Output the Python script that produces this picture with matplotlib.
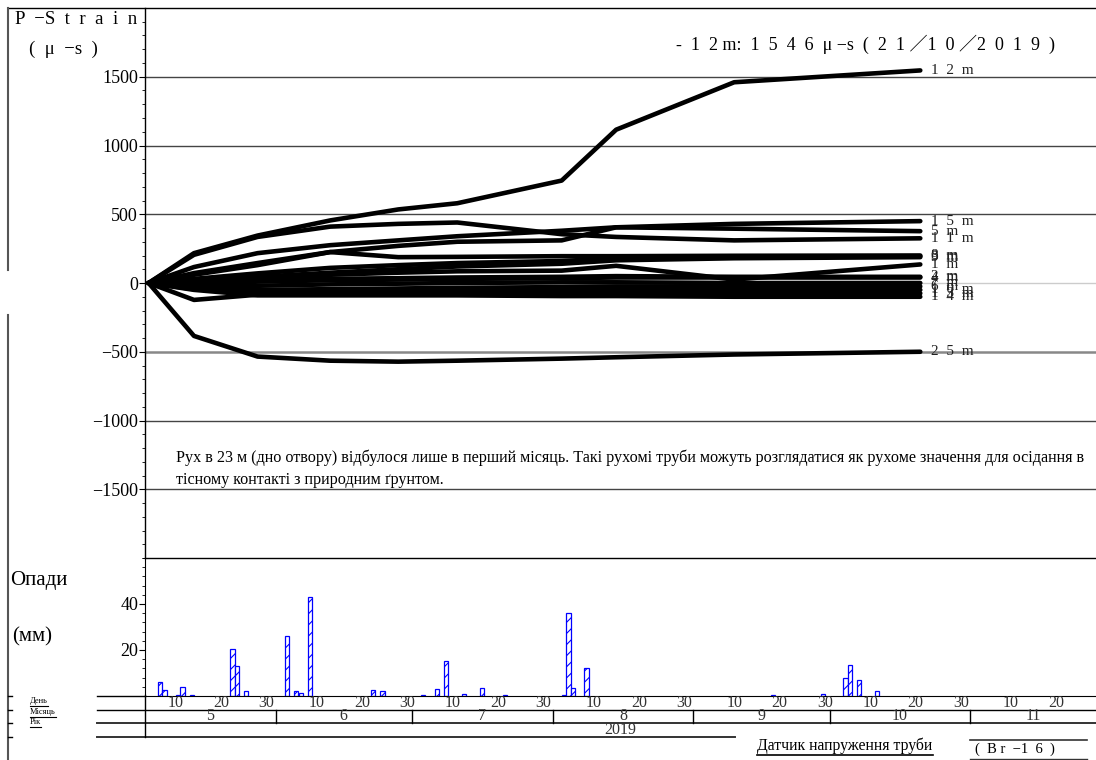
import datetime as dt
import matplotlib
matplotlib.use("Agg")
import matplotlib.pyplot as plt
import matplotlib.transforms as mtransforms
import pandas as pd
from matplotlib.ticker import MultipleLocator, FixedLocator

plt.rcParams['font.family'] = ['Liberation Serif', 'DejaVu Serif']
plt.rcParams['hatch.linewidth'] = 0.8

# pipe strain readings (micro-strain) per gauge depth
read_dates = pd.to_datetime(['2019-05-04', '2019-05-14', '2019-05-28', '2019-06-13', '2019-06-28',
                             '2019-07-11', '2019-08-03', '2019-08-15', '2019-09-10', '2019-10-21'])

strain_12m = [0, 217, 345, 455, 535, 580, 745, 1115, 1460, 1546]
strain_15m = [0, 116, 217, 275, 310, 340, 380, 405, 430, 450]
strain_11m = [0, 205, 335, 410, 430, 440, 355, 335, 310, 325]
strain_5m = [0, 72, 145, 225, 270, 300, 310, 405, 395, 377]
strain_8m = [0, 60, 130, 225, 188, 190, 195, 195, 198, 200]
strain_3m = [0, 30, 70, 110, 130, 145, 160, 180, 190, 195]
strain_9m = [0, 20, 45, 75, 100, 120, 140, 165, 180, 188]
strain_1m = [0, 15, 40, 60, 75, 85, 90, 125, 25, 135]
strain_2m = [0, 5, 20, 30, 35, 40, 45, 50, 45, 45]
strain_4m = [0, -10, 10, 20, 25, 30, 35, 40, 40, 40]
strain_7m = [0, -25, -20, -10, -5, 0, 5, 5, 0, 0]
strain_6m = [0, -35, -50, -45, -40, -35, -30, -25, -25, -25]
strain_10m = [0, -45, -75, -65, -60, -55, -50, -50, -50, -50]
strain_13m = [0, -123, -85, -80, -75, -75, -75, -75, -75, -75]
strain_14m = [0, -50, -90, -90, -90, -90, -95, -95, -100, -100]
strain_25m = [0, -385, -535, -565, -572, -565, -550, -540, -520, -500]

gauges = [('1  2  m', strain_12m), ('1  5  m', strain_15m), ('5  m', strain_5m), ('1  1  m', strain_11m),
          ('8  m', strain_8m), ('3  m', strain_3m), ('9  m', strain_9m), ('1  m', strain_1m),
          ('2  m', strain_2m), ('4  m', strain_4m), ('7  m', strain_7m), ('6  m', strain_6m),
          ('1  0  m', strain_10m), ('1  3  m', strain_13m), ('1  4  m', strain_14m), ('2  5  m', strain_25m)]

# daily rainfall (mm)
rain_dates = pd.to_datetime(['2019-05-06', '2019-05-07', '2019-05-10', '2019-05-11', '2019-05-13',
                             '2019-05-22', '2019-05-23', '2019-05-25', '2019-06-03', '2019-06-05',
                             '2019-06-06', '2019-06-08', '2019-06-22', '2019-06-24', '2019-07-03',
                             '2019-07-06', '2019-07-08', '2019-07-12', '2019-07-16', '2019-07-21',
                             '2019-08-03', '2019-08-04', '2019-08-05', '2019-08-08', '2019-09-18',
                             '2019-09-29', '2019-10-04', '2019-10-05', '2019-10-07', '2019-10-11'])
rain_mm = [6.1, 2.5, 0.3, 3.9, 0.3, 20.6, 12.9, 2.0, 25.9, 2.0,
           1.4, 43.0, 2.5, 2.0, 0.6, 2.9, 15.2, 0.7, 3.5, 0.5,
           0.3, 36.2, 3.6, 12.3, 0.3, 1.0, 8.0, 13.3, 6.8, 2.0]

strain_ticks = [-1500, -1000, -500, 0, 500, 1000, 1500]
rain_ticks = [20, 40]
month_labels = ['5', '6', '7', '8', '9', '10', '11']
day_labels = [10, 20, 30]
year_label = '2019'

x_start = dt.datetime(2019, 5, 3, 5)
x_end = dt.datetime(2019, 11, 28, 17)

W, H = 1096, 760
fig = plt.figure(figsize=(W / 100, H / 100), dpi=100)

ax2 = fig.add_axes([145 / W, (H - 696) / H, (W - 145) / W, 138 / H])
ax = fig.add_axes([145 / W, (H - 558) / H, (W - 145) / W, 550 / H])
ov = fig.add_axes([0, 0, 1, 1])
ov.set_xlim(0, W)
ov.set_ylim(H, 0)
ov.axis('off')

# --- strain panel
ax.set_xlim(x_start, x_end)
ax.set_ylim(-2000, 2000)
ax.patch.set_visible(False)
for s in ['top', 'right']:
    ax.spines[s].set_visible(False)
ax.spines['left'].set_linewidth(1.0)
ax.spines['bottom'].set_linewidth(1.0)
ax.set_xticks([])
ax.yaxis.set_major_locator(FixedLocator(strain_ticks))
ax.yaxis.set_minor_locator(MultipleLocator(100))
ax.tick_params(axis='y', which='major', direction='out', length=4, labelsize=13, pad=1)
ax.tick_params(axis='y', which='minor', direction='out', length=2.5)

for v in strain_ticks:
    if v == 0:
        ax.axhline(v, color='#cccccc', lw=1, zorder=1)
    elif v == -500:
        ax.axhline(v, color='#888888', lw=1.8, zorder=1)
    else:
        ax.axhline(v, color='#444444', lw=1, zorder=1)

for name, vals in gauges:
    ax.plot(read_dates, vals, color='black', lw=3.3, solid_capstyle='round', zorder=3)
    ax.annotate(name, (read_dates[-1], vals[-1]), xytext=(8, 0), textcoords='offset points',
                va='center', ha='left', fontsize=11, color='#222222')

# --- rainfall panel
ax2.set_xlim(x_start, x_end)
ax2.set_ylim(0, 60)
for s in ['top', 'right']:
    ax2.spines[s].set_visible(False)
ax2.set_xticks([])
ax2.yaxis.set_major_locator(FixedLocator(rain_ticks))
ax2.yaxis.set_minor_locator(MultipleLocator(4))
ax2.tick_params(axis='y', which='major', direction='out', length=4, labelsize=13, pad=1)
ax2.tick_params(axis='y', which='minor', direction='out', length=2.5)
ax2.bar(rain_dates + pd.Timedelta(hours=12), rain_mm, width=0.95, facecolor='white',
        edgecolor='blue', hatch='///', linewidth=0.9, zorder=2)

# --- date table under the rainfall panel
bt = mtransforms.blended_transform_factory(ax2.transData, ov.transData)
line_kw = dict(color='black', lw=1)
ov.plot([97, 145], [695.5, 695.5], **line_kw)
ov.plot([97, W], [710, 710], **line_kw)
ov.plot([97, W], [723, 723], color='#333333', lw=1.4)
ov.plot([97, 735], [737, 737], color='#333333', lw=1.4)
ov.plot([145, 145], [695, 737], **line_kw)

months = pd.date_range('2019-05-01', '2019-12-01', freq='MS')
for i, m in enumerate(months[:-1]):
    m0 = max(m, pd.Timestamp(x_start))
    m1 = min(months[i + 1], pd.Timestamp(x_end))
    mid = m0 + (m1 - m0) / 2
    ov.text(mid, 716.5, month_labels[i], transform=bt, ha='center', va='center', fontsize=11.5,
            color='#333333')
    if m > pd.Timestamp(x_start):
        ov.plot([m, m], [710, 723], transform=bt, **line_kw)
    for d in day_labels:
        day = m + pd.Timedelta(days=d - 1)
        if pd.Timestamp(x_start) < day < pd.Timestamp(x_end):
            ov.text(day, 703, str(d), transform=bt, ha='center', va='center', fontsize=11.5,
                    color='#333333')
y_mid = pd.Timestamp(x_start) + (pd.Timestamp(x_end) - pd.Timestamp(x_start)) / 2
ov.text(y_mid, 730, year_label, transform=bt, ha='center', va='center', fontsize=11.5, color='#333333')

# --- outer frame
ov.plot([8, W], [8, 8], **line_kw)
ov.plot([8, 8], [8, 270], color='#555555', lw=1.5)
ov.plot([8, 8], [315, H], color='#555555', lw=1.5)
for yy in [695.5, 710, 723, 737]:
    ov.plot([8, 12], [yy, yy], **line_kw)

# --- titles and notes
ov.text(15, 19, 'P  −S  t  r  a  i  n', fontsize=13.5, ha='left', va='center')
ov.text(29, 49, '(  μ  −s  )', fontsize=13.5, ha='left', va='center')
ov.text(676, 44, '-  1  2 m:  1  5  4  6  μ −s  (  2  1 ／1  0 ／2  0  1  9  )', fontsize=13,
        ha='left', va='center', family=['Liberation Serif', 'Noto Sans CJK JP'])
ov.text(176, 458, 'Рух в 23 м (дно отвору) відбулося лише в перший місяць. Такі рухомі труби можуть '
        'розглядатися як рухоме значення для осідання в', fontsize=11.6, ha='left', va='center')
ov.text(176, 480, 'тісному контакті з природним ґрунтом.', fontsize=11.6, ha='left', va='center')
ov.text(10, 580, 'Опади', fontsize=15, ha='left', va='center')
ov.text(12, 637, '(мм)', fontsize=15, ha='left', va='center')

underlined = [
    ov.text(30, 701, 'День', fontsize=6, ha='left', va='center'),
    ov.text(30, 712, 'Місяць', fontsize=6, ha='left', va='center'),
    ov.text(30, 722, 'Рік', fontsize=6, ha='left', va='center'),
    ov.text(845, 746, 'Датчик напруження труби', fontsize=11.3, ha='center', va='center'),
]
ov.text(975, 749, '(  B r  −1  6  )', fontsize=10.5, ha='left', va='center')
ov.plot([970, 1087], [740, 740], color='#333333', lw=1.2)
ov.plot([970, 1087], [759, 759], color='#333333', lw=1.0)

fig.canvas.draw()
inv = ov.transData.inverted()
for t in underlined:
    bb = t.get_window_extent()
    (x0, y0), (x1, _) = inv.transform([[bb.x0, bb.y0], [bb.x1, bb.y1]])
    ov.plot([x0, x1], [y0 + 1, y0 + 1], color='black', lw=0.8 if t.get_fontsize() < 8 else 1.2)

fig.savefig('out.png', dpi=100)
